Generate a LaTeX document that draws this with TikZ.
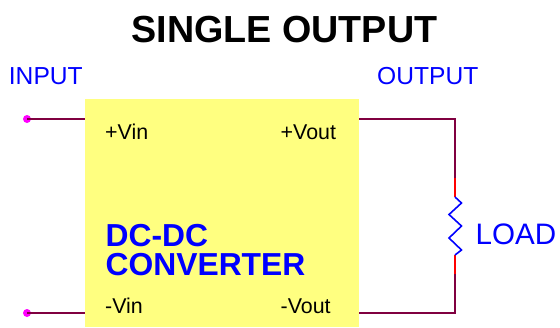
\documentclass[tikz,border=0pt]{standalone}
\usepackage{fontspec}
\setmainfont{Liberation Sans}
\definecolor{boxfill}{HTML}{FFFF80}
\definecolor{wire}{HTML}{800040}
\definecolor{pinc}{HTML}{FF00FF}
\definecolor{lbl}{HTML}{0000FF}
\tikzset{
  lab/.style={inner sep=0pt,anchor=base west,text=lbl,font=\fontsize{24.6}{24.6}\selectfont},
  pinlab/.style={inner sep=0pt,anchor=base west,text=black,font=\fontsize{21.4}{21.4}\selectfont},
  wireline/.style={draw=wire,line width=2pt,line join=miter},
  leadline/.style={draw=red,line width=2pt},
  zig/.style={draw=lbl,line width=1.6pt,line join=miter},
  pindot/.style={circle,fill=pinc,inner sep=0pt,minimum size=8pt}
}
\begin{document}
\begin{tikzpicture}[x=1pt,y=-1pt]
\useasboundingbox (0,0) rectangle (560,327);
\node[inner sep=0pt,minimum width=274pt,minimum height=228pt,anchor=north west,fill=boxfill] (box) at (85,99) {};
\node[inner sep=0pt,anchor=base,font=\bfseries\fontsize{37.7}{37.7}\selectfont] (title) at (284.5,42) {SINGLE OUTPUT};
\node[lab] (input) at (8.7,84) {INPUT};
\node[lab] (output) at (377,84) {OUTPUT};
\node[lab,font=\fontsize{29.6}{29.6}\selectfont] (load) at (475.5,244) {LOAD};
\node[pinlab] (vip) at (105,139) {+Vin};
\node[pinlab] (vop) at (280.5,139) {+Vout};
\node[pinlab] (vin) at (105,313) {-Vin};
\node[pinlab] (von) at (280.5,313) {-Vout};
\node[inner sep=0pt,anchor=base west,align=left,text=lbl,font=\bfseries\fontsize{31.8}{29}\selectfont] (conv) at (105.5,275) {DC-DC\\CONVERTER};
\node[pindot] (p1) at (27,119) {};
\node[pindot] (p2) at (27,313) {};
\coordinate (tr) at (455,119);
\coordinate (br) at (455,313);
\coordinate (a) at (455,178);
\coordinate (b) at (455,197);
\coordinate (c) at (455,255);
\coordinate (d) at (455,274);
\draw[wireline] (p1.center) -- (p1.center -| box.west);
\draw[wireline] (p2.center) -- (p2.center -| box.west);
\draw[leadline] (a) -- (b);
\draw[leadline] (c) -- (d);
\draw[wireline] (box.east |- tr) -- (tr) -- (a);
\draw[wireline] (d) -- (br) -- (box.east |- br);
\draw[zig] (b) -- (461.5,203) -- (449,214.5) -- (461.5,226) -- (449,238) -- (461.5,250) -- (c);
\end{tikzpicture}
\end{document}
